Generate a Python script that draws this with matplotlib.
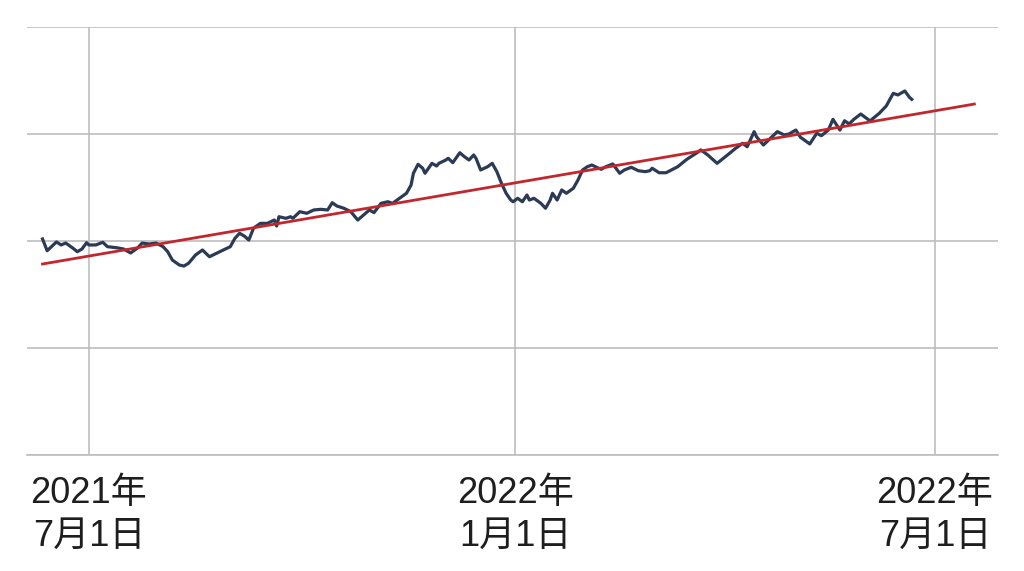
import matplotlib
matplotlib.use("Agg")
import matplotlib.pyplot as plt
import pandas as pd

plt.rcParams['font.family'] = ['Liberation Sans', 'Noto Sans CJK JP', 'DejaVu Sans']

# days since 2021-07-01 and index values
day_offsets = [
    -20, -18, -14, -12, -10, -7, -5, -3, -1, 0, 3, 6, 8, 12, 15, 18, 21, 23, 26, 29,
    32, 34, 36, 39, 41, 43, 46, 49, 52, 55, 58, 61, 63, 65, 67, 69, 71, 74, 77, 80,
    81, 82, 85, 87, 88, 91, 94, 97, 100, 103, 105, 107, 110, 113, 116, 118, 121, 123, 126, 129,
    131, 134, 137, 139, 140, 142, 144, 145, 148, 150, 151, 154, 155, 157, 160, 162, 164, 166, 167, 169,
    172, 174, 176, 178, 180, 182, 183, 185, 187, 189, 190, 192, 195, 197, 199, 200, 202, 204, 206, 209,
    211, 213, 215, 217, 219, 221, 223, 226, 229, 231, 234, 237, 240, 242, 243, 246, 249, 254, 258, 262,
    264, 267, 271, 275, 279, 282, 284, 287, 288, 291, 294, 297, 300, 302, 305, 307, 311, 314, 316, 319,
    321, 324, 326, 328, 330, 333, 337, 341, 344, 347, 349, 352, 354, 355,
]
values = [
    201.9, 190.9, 199.1, 196.3, 198.1, 193.5, 190.0, 192.5, 198.4, 196.3, 196.3, 198.8, 194.7, 193.7, 192.5, 188.8, 193.5, 198.1, 197.2, 198.1,
    194.7, 190.0, 182.2, 177.6, 176.6, 179.2, 186.9, 191.6, 185.3, 188.5, 191.6, 194.7, 202.5, 207.2, 204.7, 200.9, 211.9, 216.5, 216.5, 219.6,
    214.0, 222.7, 221.2, 222.7, 221.2, 227.4, 225.9, 229.0, 229.6, 229.0, 235.8, 232.7, 230.6, 227.4, 219.6, 223.4, 229.0, 226.5, 235.2, 236.7,
    235.2, 239.9, 244.6, 252.3, 263.3, 271.7, 268.0, 263.3, 272.6, 270.1, 272.6, 275.7, 277.3, 273.2, 282.5, 278.8, 275.7, 280.4, 277.3, 266.4,
    269.4, 272.6, 264.8, 253.9, 244.6, 238.3, 236.7, 239.9, 236.7, 243.0, 238.3, 239.9, 235.2, 230.6, 238.3, 244.6, 238.3, 247.7, 244.6, 249.3,
    257.0, 266.4, 269.4, 271.0, 268.9, 267.0, 269.4, 272.0, 263.3, 266.4, 268.9, 265.7, 264.8, 265.7, 268.0, 263.8, 263.8, 269.4, 276.4, 282.0,
    285.1, 280.4, 272.6, 279.5, 286.6, 291.3, 288.1, 302.2, 297.5, 289.7, 296.0, 302.2, 299.1, 300.0, 303.7, 296.9, 290.7, 300.7, 298.4, 303.7,
    313.7, 303.7, 312.4, 309.4, 313.7, 318.7, 312.2, 319.4, 326.2, 338.0, 336.5, 340.2, 334.3, 332.4,
]

# trend line end points
trend_offsets = [-20, 382]
trend_values = [178.5, 328.0]

tick_dates = ["2021-07-01", "2022-01-01", "2022-07-01"]
tick_labels = ["2021年\n7月1日", "2022年\n1月1日", "2022年\n7月1日"]

start = pd.Timestamp("2021-07-01")
dates = start + pd.to_timedelta(day_offsets, unit="D")
trend_dates = start + pd.to_timedelta(trend_offsets, unit="D")

fig = plt.figure(figsize=(10.24, 5.71), dpi=100)
ax = fig.add_axes([27 / 1024, 116 / 571, 971 / 1024, 428 / 571])

ax.plot(dates, values, color="#2b3a55", linewidth=2.3, zorder=3)
ax.plot(trend_dates, trend_values, color="#c1272d", linewidth=2, zorder=4)

ax.set_xlim(start + pd.Timedelta(days=-26.7), start + pd.Timedelta(days=392.2))
ax.set_ylim(0, 400)
ax.set_yticks([0, 100, 200, 300, 400])
ax.set_yticklabels([])
ax.set_xticks(pd.to_datetime(tick_dates))
ax.set_xticklabels(tick_labels, fontsize=26, linespacing=1.3, color="#1e1e1e")
ax.tick_params(axis="y", length=0)
ax.tick_params(axis="x", length=0, pad=15)

ax.grid(True, color="#bdbdbd", linewidth=1.2)
for side in ["top", "right", "left"]:
    ax.spines[side].set_visible(False)
ax.spines["bottom"].set_color("#bdbdbd")
ax.spines["bottom"].set_linewidth(1.2)

plt.savefig("out.png", dpi=100)
plt.close()
